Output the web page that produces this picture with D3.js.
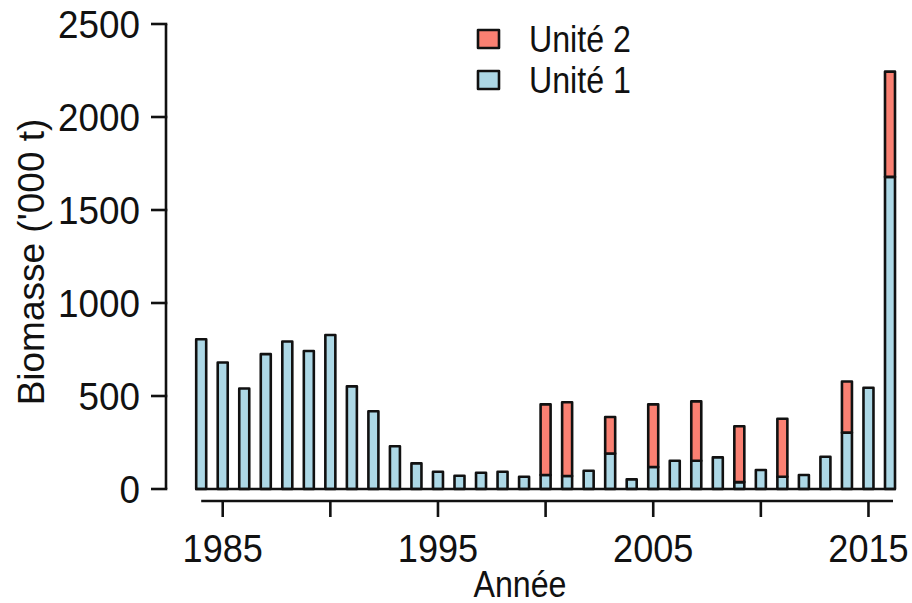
<!DOCTYPE html>
<html>
<head>
<meta charset="utf-8">
<script src="https://cdn.jsdelivr.net/npm/d3@7"></script>
<style>
html,body{margin:0;padding:0;background:#fff;}
svg text{font-family:"Liberation Sans",Arial,sans-serif;fill:#111;}
</style>
</head>
<body>
<svg id="chart" width="912" height="603"></svg>
<script>
const years = d3.range(1984, 2017);
const unite1 = [805,680,540,725,793,742,828,552,418,230,138,93,71,87,93,66,75,70,98,191,52,118,152,152,170,37,102,66,75,173,303,544,1678];
const unite2 = [0,0,0,0,0,0,0,0,0,0,0,0,0,0,0,0,380,396,0,196,0,337,0,319,0,300,0,312,0,0,275,0,566];
const yTicks = [0,500,1000,1500,2000,2500];
const xTicks = [1985,1990,1995,2000,2005,2010,2015];
const xLabels = [1985,1995,2005,2015];
const seriesNames = ["Unité 2","Unité 1"];
const colors = {"Unité 1":"#ADD8E6","Unité 2":"#FA8072"};

const svg = d3.select("#chart");
const x = d3.scaleLinear().domain([1984, 2016]).range([201.2, 890]);
const y = d3.scaleLinear().domain([0, 2500]).range([489, 24]);
const barW = 10;
const stroke = "#111";

function txt(g, tx, ty, s, anchor, size, sx, rot) {
  const tr = `translate(${tx},${ty})` + (rot ? ` rotate(${rot}) scale(1,${sx})` : ` scale(${sx},1)`);
  return g.append("g").attr("transform", tr)
    .append("text").attr("text-anchor", anchor).attr("font-size", size).text(s);
}

// bars
const data = years.map((yr, i) => ({yr, u1: unite1[i], u2: unite2[i]}));
const gb = svg.append("g");
gb.selectAll("rect.u1").data(data).join("rect")
  .attr("x", d => x(d.yr) - barW/2).attr("width", barW)
  .attr("y", d => y(d.u1)).attr("height", d => y(0) - y(d.u1))
  .attr("fill", colors["Unité 1"]).attr("stroke", stroke).attr("stroke-width", 2.6).attr("stroke-linejoin", "round");
gb.selectAll("rect.u2").data(data.filter(d => d.u2 > 0)).join("rect")
  .attr("x", d => x(d.yr) - barW/2).attr("width", barW)
  .attr("y", d => y(d.u1 + d.u2)).attr("height", d => y(d.u1) - y(d.u1 + d.u2))
  .attr("fill", colors["Unité 2"]).attr("stroke", stroke).attr("stroke-width", 2.6).attr("stroke-linejoin", "round");
// baseline
svg.append("line").attr("x1", x(1984) - barW/2 - 1).attr("x2", x(2016) + barW/2 + 1)
  .attr("y1", y(0)).attr("y2", y(0)).attr("stroke", stroke).attr("stroke-width", 2.6);

// y axis
const gy = svg.append("g");
const axX = 166;
gy.append("line").attr("x1", axX).attr("x2", axX).attr("y1", y(0)).attr("y2", y(2500)).attr("stroke", stroke).attr("stroke-width", 2.6);
yTicks.forEach(v => {
  gy.append("line").attr("x1", axX - 15).attr("x2", axX + 1.3).attr("y1", y(v)).attr("y2", y(v)).attr("stroke", stroke).attr("stroke-width", 2.6);
  txt(gy, 140, y(v) + 13.5, v, "end", 38, 0.97);
});

// x axis
const gx = svg.append("g");
const axY = 501;
gx.append("line").attr("x1", x(1984)).attr("x2", x(2016) + 3).attr("y1", axY).attr("y2", axY).attr("stroke", stroke).attr("stroke-width", 2.6);
xTicks.forEach(v => {
  gx.append("line").attr("x1", x(v)).attr("x2", x(v)).attr("y1", axY).attr("y2", axY + 16).attr("stroke", stroke).attr("stroke-width", 2.6);
});
xLabels.forEach(v => txt(gx, x(v), 562, v, "middle", 38, 0.95));

// titles
txt(svg, 520, 597, "Année", "middle", 37, 0.87);
txt(svg, 44, 262, "Biomasse ('000 t)", "middle", 37, 1.0, -90);

// legend
const gl = svg.append("g");
seriesNames.forEach((n, i) => {
  const cy = 39 + i * 41;
  gl.append("rect").attr("x", 478).attr("y", cy - 9).attr("width", 21).attr("height", 18)
    .attr("fill", colors[n]).attr("stroke", stroke).attr("stroke-width", 2.6).attr("stroke-linejoin", "round");
  txt(gl, 529, cy + 13, n, "start", 37, 0.87);
});
</script>
</body>
</html>
